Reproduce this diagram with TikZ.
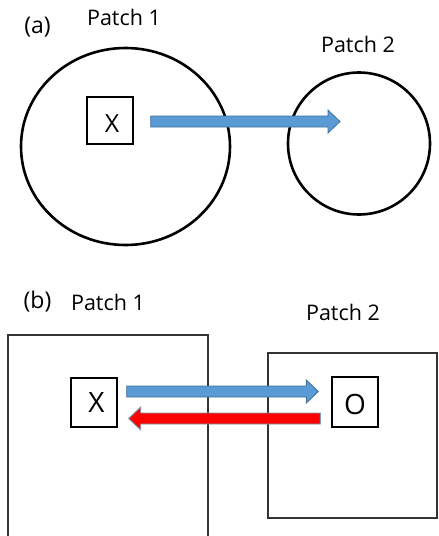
\documentclass[tikz,border=0pt]{standalone}
\usepackage{fontspec}
\setmainfont{Open Sans}
\usetikzlibrary{calc,shapes.geometric}
\definecolor{flowblue}{HTML}{5B9BD5}
\definecolor{flowedge}{HTML}{41719C}
\definecolor{flowred}{HTML}{FF0000}
\definecolor{patchline}{HTML}{333333}

% Block arrow from #2 to #3; #4 = 1 points right, -1 points left
\newcommand\blockarrow[4][]{%
  \filldraw[#1]
    ($(#2)+(0,-5.5)$) -- ($(#3)+(-12*#4,-5.5)$) -- ($(#3)+(-12*#4,-11.5)$)
    -- (#3) -- ($(#3)+(-12*#4,11.5)$) -- ($(#3)+(-12*#4,5.5)$)
    -- ($(#2)+(0,5.5)$) -- cycle;}

\begin{document}
\begin{tikzpicture}[x=1pt,y=-1pt,
  caption/.style={anchor=base,inner sep=0pt,font=\fontsize{21.5}{25}\selectfont},
  tag/.style={anchor=base,inner sep=0pt,font=\fontsize{23}{27}\selectfont},
  glyph/.style={anchor=base,inner sep=0pt},
  roundpatch/.style={draw,ellipse,line width=2.6pt,inner sep=0pt},
  squarepatch/.style={draw=patchline,rectangle,line width=1.2pt,inner sep=0pt},
  agent/.style={draw,rectangle,line width=1.3pt,inner sep=0pt},
  bluearrow/.style={fill=flowblue,draw=flowedge,line width=0.8pt},
  redarrow/.style={fill=flowred,draw=flowedge!70,line width=0.8pt}]
  \clip (0,0) rectangle (439,536);
  \fill[white] (0,0) rectangle (439,536);

  % ---- (a) circular patches ----
  \node[tag] (la) at (37.5,33) {(a)};
  \node[caption] (pa1) at (124,25) {Patch 1};
  \node[caption] (pa2) at (358,52) {Patch 2};
  \node[roundpatch,minimum width=209pt,minimum height=197pt] (ca1) at (125.5,146.5) {};
  \node[roundpatch,minimum width=142pt,minimum height=142pt] (ca2) at (359,143.5) {};
  \node[agent,minimum width=46pt,minimum height=47pt] (xa) at (110,120.5) {};
  \node[glyph,font=\fontsize{25}{30}\selectfont] (xat) at (112,132.7) {X};
  \coordinate (a1s) at ($(xa.east)+(17,1)$);
  \coordinate (a1e) at ($(ca2.center)+(-19,-22)$);
  \blockarrow[bluearrow]{a1s}{a1e}{1}

  % ---- (b) square patches ----
  \node[tag] (lb) at (37.5,308) {(b)};
  \node[caption] (pb1) at (108,310) {Patch 1};
  \node[caption] (pb2) at (343,320) {Patch 2};
  \node[squarepatch,minimum width=200pt,minimum height=215pt] (sb1) at (108,442.5) {};
  \node[squarepatch,minimum width=169pt,minimum height=165pt] (sb2) at (352.5,435.5) {};
  \node[agent,minimum width=46pt,minimum height=49pt] (xb) at (94,402.5) {};
  \node[glyph,font=\fontsize{28}{33}\selectfont] (xbt) at (96.5,412) {X};
  \node[agent,minimum width=46pt,minimum height=50pt] (ob) at (355,402) {};
  \node[glyph,font=\fontsize{28}{33}\selectfont] (obt) at (355,414.5) {O};
  \coordinate (b1s) at ($(xb.east)+(9,-11)$);
  \coordinate (b1e) at ($(ob.west)+(-13,-10.5)$);
  \coordinate (b2s) at ($(ob.west)+(-11,16.5)$);
  \coordinate (b2e) at ($(xb.east)+(11,16)$);
  \blockarrow[bluearrow]{b1s}{b1e}{1}
  \blockarrow[redarrow]{b2s}{b2e}{-1}
\end{tikzpicture}
\end{document}
